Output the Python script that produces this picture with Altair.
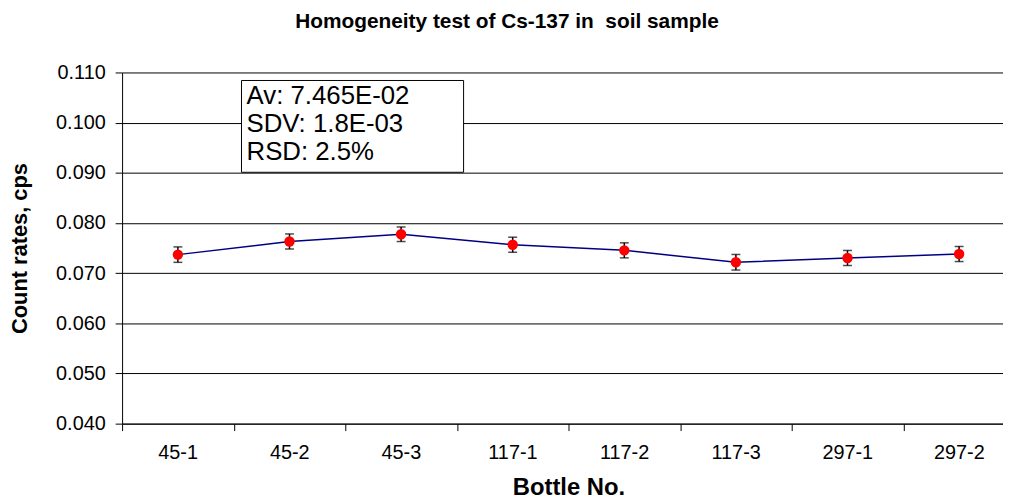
import json
import altair as alt
import pandas as pd

# ---- data ----
categories = ["45-1", "45-2", "45-3", "117-1", "117-2", "117-3", "297-1", "297-2"]
count_rates = [0.07369, 0.07631, 0.07775, 0.07566, 0.07454, 0.07217, 0.07302, 0.07381]
uncertainty = [0.00154, 0.00150, 0.00145, 0.00150, 0.00150, 0.00155, 0.00150, 0.00150]
y_ticks = [0.040, 0.050, 0.060, 0.070, 0.080, 0.090, 0.100, 0.110]

stats_lines = ["Av: 7.465E-02", "SDV: 1.8E-03", "RSD: 2.5%"]
stats_line_y = [0.1037, 0.0982, 0.0926]
stats_box_x = [0.57, 2.56]
stats_box_y = [0.1084, 0.0901]
stats_text_x = 0.615

# ---- tables ----
df = pd.DataFrame({
    "bottle": categories,
    "idx": list(range(len(categories))),
    "count": count_rates,
    "lo": [c - u for c, u in zip(count_rates, uncertainty)],
    "hi": [c + u for c, u in zip(count_rates, uncertainty)],
})
box_df = pd.DataFrame({"x": [stats_box_x[0]], "x2": [stats_box_x[1]],
                       "y": [stats_box_y[0]], "y2": [stats_box_y[1]]})
txt_df = pd.DataFrame({"label": stats_lines, "y": stats_line_y,
                       "x": [stats_text_x] * len(stats_lines)})

FONT = "Liberation Sans"
x_max = -0.5 + 888 / 112.5
boundaries = [i - 0.5 for i in range(len(categories))]

x_scale = alt.Scale(domain=[-0.5, x_max], nice=False, zero=False)
y_scale = alt.Scale(domain=[0.04, 0.11], nice=False, zero=False)

x_axis = alt.Axis(
    values=boundaries,
    labelExpr=json.dumps(categories) + "[round(datum.value + 0.5)]",
    labelOffset=56, labelFlush=False, labelOverlap=False, labelBound=False,
    grid=False, tickSize=7, labelPadding=12, labelFontSize=20,
    titleFontSize=24, titleX=450, titleY=71, titleBaseline="alphabetic",
    titleAnchor="start", titleAlign="center",
)
y_axis = alt.Axis(
    values=y_ticks, format=".3f", grid=True, tickSize=7, labelPadding=10,
    labelFontSize=20, titleFontSize=22, titleAngle=-90, titleX=-103, titleY=177,
    titleBaseline="middle", titleAnchor="start", titleAlign="center",
)

X = alt.X("idx:Q", scale=x_scale, axis=x_axis, title="Bottle No.")
Y = alt.Y("count:Q", scale=y_scale, axis=y_axis, title="Count rates, cps")

base = alt.Chart(df)
line = base.mark_line(color="#000080", strokeWidth=1.5).encode(x=X, y=Y)
bars = base.mark_rule(color="black", strokeWidth=1.5).encode(
    x=X, y=alt.Y("lo:Q", scale=y_scale, axis=y_axis, title="Count rates, cps"), y2="hi:Q")
cap_lo = base.mark_tick(orient="horizontal", size=9, thickness=1.5, color="black").encode(
    x=X, y=alt.Y("lo:Q", scale=y_scale, axis=y_axis, title="Count rates, cps"))
cap_hi = base.mark_tick(orient="horizontal", size=9, thickness=1.5, color="black").encode(
    x=X, y=alt.Y("hi:Q", scale=y_scale, axis=y_axis, title="Count rates, cps"))
points = base.mark_point(filled=True, shape="circle", size=110, color="#FF0000", opacity=1).encode(x=X, y=Y)

box = alt.Chart(box_df).mark_rect(fill="white", stroke="black", strokeWidth=1).encode(
    x=alt.X("x:Q", scale=x_scale, axis=x_axis, title="Bottle No."), x2="x2:Q",
    y=alt.Y("y:Q", scale=y_scale, axis=y_axis, title="Count rates, cps"), y2="y2:Q")
text = alt.Chart(txt_df).mark_text(align="left", baseline="alphabetic", fontSize=26,
                                   font=FONT, color="black").encode(
    x=alt.X("x:Q", scale=x_scale, axis=x_axis, title="Bottle No."),
    y=alt.Y("y:Q", scale=y_scale, axis=y_axis, title="Count rates, cps"),
    text="label:N")

chart = alt.layer(line, bars, cap_lo, cap_hi, points, box, text).properties(
    width=888, height=354,
    padding={"left": 115, "top": 63, "right": 0, "bottom": 75},
    autosize=alt.AutoSizeParams(type="none"),
    title=alt.TitleParams(
        text="Homogeneity test of Cs-137 in \u00a0soil sample",
        font=FONT, fontSize=21, fontWeight="bold", color="black",
        anchor="middle", frame="group", dx=-56, offset=31,
    ),
).configure_view(stroke=None).configure_axis(
    domainColor="black", tickColor="black", gridColor="black", gridWidth=1,
    domainWidth=1, tickWidth=1, labelColor="black", titleColor="black",
    labelFont=FONT, titleFont=FONT, titleFontWeight="bold",
)

chart.save("out.html", embed_options={"renderer": "svg", "actions": False})
